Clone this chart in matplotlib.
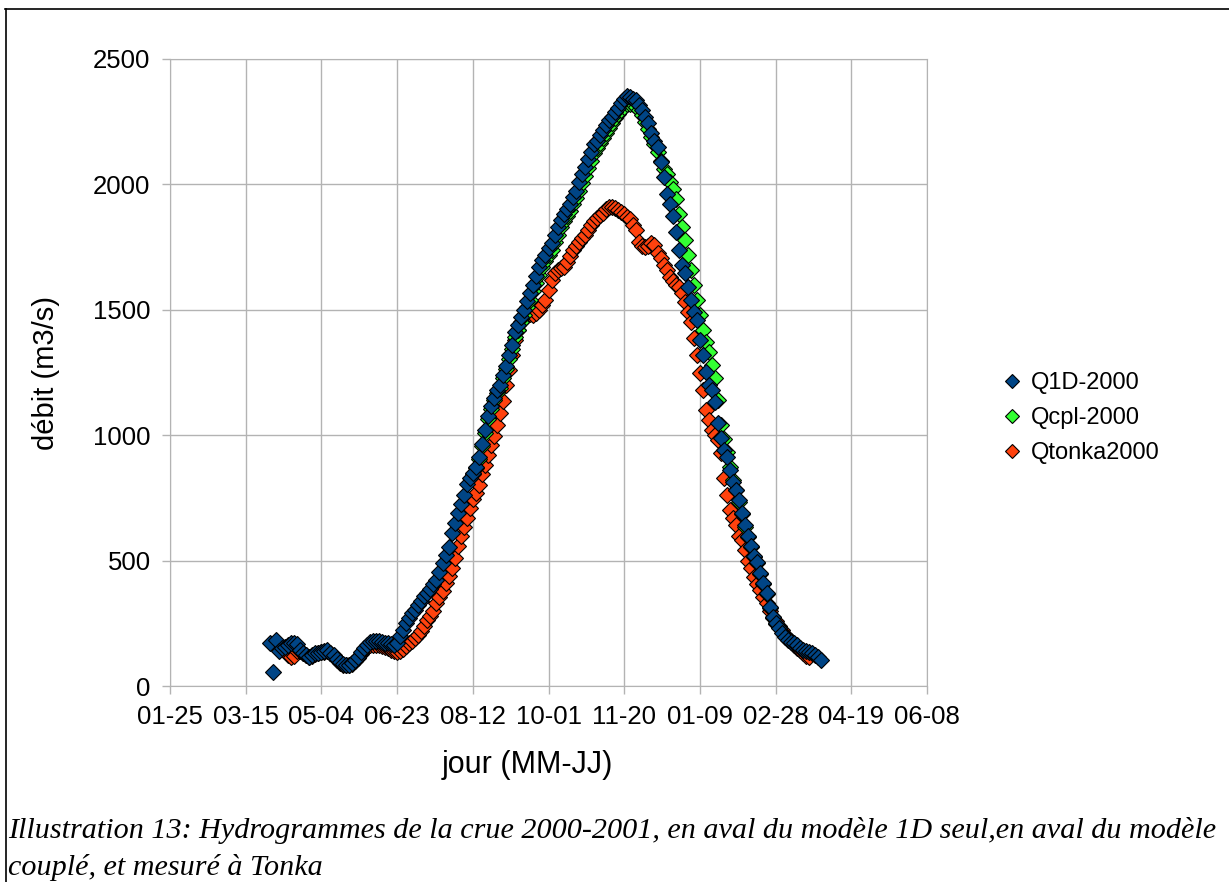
import numpy as np
import pandas as pd
import matplotlib
matplotlib.use("Agg")
import matplotlib.pyplot as plt
import matplotlib.dates as mdates
from matplotlib.lines import Line2D

# daily flows read every 2 days, day 0 = 2000-01-25
origin = pd.Timestamp("2000-01-25")

q1d_start = 66
q1d = [170, 56, 183, 140, 150, 156, 165, 170, 170, 168,
       145, 133, 125, 117, 122, 130, 133, 137, 140, 143,
       133, 122, 108, 95, 86, 84, 84, 92, 102, 117,
       135, 150, 165, 175, 180, 180, 178, 175, 172, 172,
       168, 165,
       170, 200, 225, 250, 272, 290, 305, 322, 340, 358,
       370, 385, 405, 423, 455, 490, 522, 555, 610, 650,
       690, 725, 760, 805, 830, 850, 875, 915, 965, 1020,
       1075, 1115, 1150, 1180, 1200, 1240, 1275, 1320, 1360, 1410,
       1440, 1470, 1500, 1535, 1567, 1600, 1635, 1670, 1699, 1720,
       1745, 1766, 1800, 1830, 1858, 1880, 1900, 1920, 1950, 1975,
       2010, 2040, 2070, 2100, 2130, 2160, 2175, 2195, 2217, 2235,
       2255, 2270, 2290, 2305, 2325, 2340, 2352, 2350, 2342, 2336,
       2315, 2297, 2270, 2245, 2205, 2175, 2149, 2090, 2030, 1960,
       1920, 1875, 1810, 1740, 1680, 1647, 1591, 1540, 1490, 1459,
       1380, 1320, 1250, 1200, 1180, 1132, 1050, 990, 940, 913,
       861, 813, 780, 740, 690, 640, 600, 560, 520, 494,
       451, 411, 371, 315, 275, 250, 232, 210, 195, 185,
       175, 170, 162, 150, 143, 140, 137, 133, 125, 115,
       104]

qcpl_start = 200
qcpl = [845, 868, 905, 955, 1010, 1065, 1105, 1140, 1170, 1190,
        1230, 1265, 1305, 1345, 1390, 1420, 1450, 1480, 1510, 1540,
        1575, 1605, 1640, 1670, 1695, 1720, 1740, 1770, 1800, 1830,
        1855, 1875, 1895, 1920, 1945, 1975, 2005, 2035, 2065, 2095,
        2125, 2145, 2165, 2185, 2205, 2225, 2245, 2265, 2280, 2295,
        2310, 2320, 2322, 2320, 2310, 2295, 2275, 2250, 2220, 2190,
        2160, 2130, 2095, 2060, 2040, 2010, 1980, 1940, 1880, 1830,
        1780, 1720, 1660, 1600, 1540, 1480, 1420, 1370, 1330, 1280,
        1230, 1140, 1040, 985, 935, 875, 820, 780, 735, 685,
        635, 595, 555, 515, 490, 447, 405, 365, 310, 272,
        248]

tonka_start = 76
tonka = [140, 125, 115, 118, 140, 140, 130, 122, 115, 118,
         126, 130, 134, 137, 140, 130, 118, 104, 92, 84,
         82, 82, 88, 98, 112, 128, 143, 155, 162, 165,
         165, 163, 160, 155, 150, 143, 138,
         135, 140, 148, 160, 172, 180, 190, 203, 218, 240,
         262, 280, 300, 330, 355, 380, 410, 440, 470, 510,
         560, 600, 635, 670, 710, 745, 770, 800, 845, 880,
         920, 960, 995, 1040, 1090,
         1135, 1200, 1260, 1320, 1380, 1420, 1450, 1475, 1490, 1485,
         1480, 1487, 1500, 1520, 1539, 1580, 1619, 1645, 1659, 1665,
         1672, 1690, 1715, 1738, 1755, 1770, 1785, 1800, 1820, 1840,
         1855, 1865, 1878, 1886, 1900, 1910, 1910, 1905, 1898, 1890,
         1880, 1872, 1862, 1840, 1818, 1770, 1755, 1750, 1755, 1766,
         1760, 1726, 1705, 1680, 1660, 1631, 1615, 1600, 1590, 1567,
         1530, 1490, 1450, 1388, 1320, 1248, 1180, 1100, 1061, 1021,
         1000, 980, 930, 830, 760, 700, 670, 640, 600, 582,
         542, 500, 470, 435, 405, 383, 355, 331, 300, 275,
         258, 240, 225, 205, 190, 180, 165, 150, 143, 130,
         120, 115]

x_ticks = pd.date_range("2000-01-25", periods=11, freq="50D")


def dates(start, values):
    return origin + pd.to_timedelta(start + 2 * np.arange(len(values)), unit="D")


plt.rcParams["font.family"] = ["Liberation Sans", "DejaVu Sans"]

fig = plt.figure(figsize=(12.29, 8.82), dpi=100)
ax = fig.add_axes([170 / 1229, 196 / 882, 757 / 1229, 627 / 882])

mk = dict(linestyle="none", marker="D", markersize=8.3,
          markeredgecolor="black", markeredgewidth=0.8)
ax.plot(dates(tonka_start, tonka), tonka, color="#ff420e", label="Qtonka2000", zorder=3, **mk)
ax.plot(dates(qcpl_start, qcpl), qcpl, color="#33ff33", label="Qcpl-2000", zorder=4, **mk)
ax.plot(dates(q1d_start, q1d), q1d, color="#004586", label="Q1D-2000", zorder=5, **mk)

ax.set_xlim(x_ticks[0], x_ticks[-1])
ax.set_ylim(0, 2500)
ax.set_xticks(x_ticks)
ax.xaxis.set_major_formatter(mdates.DateFormatter("%m-%d"))
ax.set_yticks(range(0, 2501, 500))
ax.grid(True, color="#b3b3b3", linewidth=1)
ax.set_axisbelow(True)
for s in ax.spines.values():
    s.set_color("#b3b3b3")
ax.tick_params(labelsize=18.5, color="#b3b3b3", length=6, width=1, pad=8)

ax.set_xlabel("jour (MM-JJ)", fontsize=22, labelpad=15)
ax.xaxis.label.set_x((527 - 170) / 757)
ax.set_ylabel("débit (m3/s)", fontsize=21, labelpad=24)

h, l = ax.get_legend_handles_labels()
ax.legend(h[::-1], l[::-1], loc="center left", bbox_to_anchor=(1.068, 0.427),
          frameon=False, fontsize=17, handletextpad=0.3, labelspacing=0.55,
          handlelength=1.0, markerscale=0.9)

fig.text(8 / 1229, 1 - 849 / 882,
         "Illustration 13: Hydrogrammes de la crue 2000-2001, en aval du modèle 1D seul,en aval du modèle\ncouplé, et mesuré à Tonka",
         family=["Liberation Serif", "DejaVu Serif"], style="italic", fontsize=21.7,
         va="center", ha="left", linespacing=1.45)

# frame around the figure
fig.add_artist(Line2D([5 / 1229, 1], [1 - 9 / 882, 1 - 9 / 882], transform=fig.transFigure, color="black", lw=1.2))
fig.add_artist(Line2D([6 / 1229, 6 / 1229], [0, 1 - 9 / 882], transform=fig.transFigure, color="black", lw=1.2))

fig.savefig("out.png", dpi=100)
